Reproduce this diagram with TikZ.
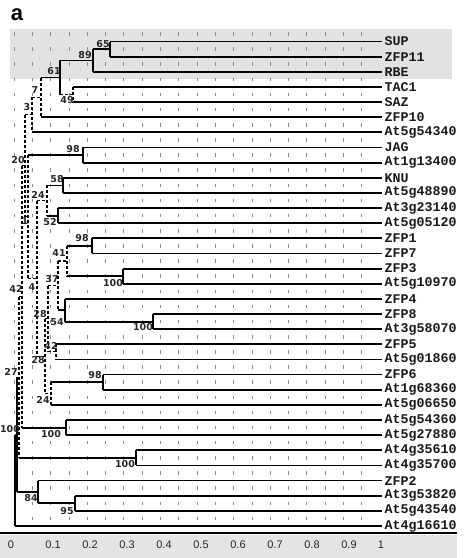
\documentclass[tikz,border=0pt]{standalone}
\usepackage{fontspec}
\setmainfont{Liberation Sans}
\newfontfamily\leaffont{Liberation Mono}
\newfontfamily\suppfont{DejaVu Sans}
\definecolor{box-gray}{HTML}{E2E2E2}
\definecolor{band-gray}{HTML}{E4E4E4}
\definecolor{tick-gray}{HTML}{8C8C8C}

\begin{document}
\begin{tikzpicture}[x=1pt, y=-1pt,
    leaf/.style={anchor=west, inner sep=2.5pt, text=black!90,
                 font=\leaffont\bfseries\fontsize{13.3}{13.3}\selectfont},
    supp/.style={inner sep=0pt, text=black!85,
                 font=\suppfont\bfseries\fontsize{9.5}{9.5}\selectfont},
    branch/.style={line width=1.8pt},
    weakbranch/.style={line width=1.1pt, dash pattern=on 3pt off 2pt},
    gridtick/.style={tick-gray, line width=0.7pt}]
  % frame: 474 x 558, one unit = one pixel, y runs downwards
  \useasboundingbox (0,0) rectangle (474,558);
  \fill[box-gray] (10,29) rectangle (452,79);
  \foreach \k in {0,...,19}
    \foreach \r in {0,...,32}
      \draw[gridtick] (14+18.3*\k, 32.2+15.14*\r) -- ++(0,3.5);

  \node[font=\bfseries\fontsize{22}{22}\selectfont, inner sep=0pt] (panel) at (17,15) {a};

  % leaves, top to bottom
  \foreach \name [count=\i from 0] in {SUP,ZFP11,RBE,TAC1,SAZ,ZFP10,At5g54340,
      JAG,At1g13400,KNU,At5g48890,At3g23140,At5g05120,ZFP1,ZFP7,ZFP3,At5g10970,
      ZFP4,ZFP8,At3g58070,ZFP5,At5g01860,ZFP6,At1g68360,At5g06650,At5g54360,
      At5g27880,At4g35610,At4g35700,ZFP2,At3g53820,At5g43540,At4g16610}
    \node[leaf] (\name) at (382, 41.5+15.14*\i) {\name};

  % internal nodes (x of the bracket, y of its middle)
  \coordinate (n65) at (110,49.1);
  \coordinate (n89) at (93,60.4);
  \coordinate (n49) at (73,94.5);
  \coordinate (n61) at (60,77.5);
  \coordinate (n7) at (41,97.4);
  \coordinate (n3) at (32,114.9);
  \coordinate (n98a) at (83,155);
  \coordinate (n58) at (63,185.4);
  \coordinate (n52) at (58,215.6);
  \coordinate (n24a) at (47,200.5);
  \coordinate (n98b) at (92,245.8);
  \coordinate (n100a) at (123,276.2);
  \coordinate (n41) at (67,261);
  \coordinate (n100b) at (153,321.6);
  \coordinate (n54) at (65,310.2);
  \coordinate (n37) at (58,285.6);
  \coordinate (n42a) at (56,351.9);
  \coordinate (n28a) at (48,318.7);
  \coordinate (n98c) at (103,382.1);
  \coordinate (n24b) at (51,393.5);
  \coordinate (n28b) at (45,356.1);
  \coordinate (n4) at (37,278.3);
  \coordinate (n1) at (28,216.6);
  \coordinate (n20) at (25,165.8);
  \coordinate (n100c) at (66,427.6);
  \coordinate (n42b) at (22,296.7);
  \coordinate (n100d) at (136,457.8);
  \coordinate (n27) at (19,377.3);
  \coordinate (n95) at (75,503.3);
  \coordinate (n84) at (38,492);
  \coordinate (n100e) at (17,434.6);
  \coordinate (root) at (15,480.3);

  % brackets
  \foreach \p/\a/\b in {n65/SUP/ZFP11, n89/n65/RBE, n61/n89/n49, n98a/JAG/At1g13400,
      n58/KNU/At5g48890, n52/At3g23140/At5g05120, n98b/ZFP1/ZFP7,
      n100a/ZFP3/At5g10970, n100b/ZFP8/At3g58070, n54/ZFP4/n100b,
      n98c/ZFP6/At1g68360, n100c/At5g54360/At5g27880, n100d/At4g35610/At4g35700,
      n95/At3g53820/At5g43540, n84/ZFP2/n95, n100e/n27/n84, root/n100e/At4g16610}
    \draw[branch] (\p |- \a) -- (\p |- \b);
  \foreach \p/\a/\b in {n49/TAC1/SAZ, n7/n61/ZFP10, n3/n7/At5g54340, n24a/n58/n52,
      n41/n98b/n100a, n37/n41/n54, n42a/ZFP5/At5g01860, n28a/n37/n42a,
      n24b/n98c/At5g06650, n28b/n28a/n24b, n4/n24a/n28b, n1/n98a/n4,
      n20/n3/n1, n42b/n20/n100c, n27/n42b/n100d}
    \draw[weakbranch] (\p |- \a) -- (\p |- \b);

  % branches into each child
  \foreach \p/\c in {n65/SUP, n65/ZFP11, n89/n65, n89/RBE, n49/TAC1, n49/SAZ,
      n61/n89, n7/n61, n7/ZFP10, n3/At5g54340, n98a/JAG, n98a/At1g13400,
      n58/KNU, n58/At5g48890, n52/At3g23140, n52/At5g05120, n24a/n58, n24a/n52,
      n98b/ZFP1, n98b/ZFP7, n100a/ZFP3, n100a/At5g10970, n41/n98b, n41/n100a,
      n100b/ZFP8, n100b/At3g58070, n54/ZFP4, n54/n100b, n37/n54,
      n42a/ZFP5, n42a/At5g01860, n98c/ZFP6, n98c/At1g68360, n24b/n98c,
      n24b/At5g06650, n1/n98a, n100c/At5g54360, n100c/At5g27880, n42b/n100c,
      n100d/At4g35610, n100d/At4g35700, n27/n100d, n95/At3g53820,
      n95/At5g43540, n84/ZFP2, n84/n95, n100e/n84, root/n100e, root/At4g16610}
    \draw[branch] (\p |- \c) -- (\c);
  \foreach \p/\c in {n61/n49, n3/n7, n20/n3, n4/n24a, n37/n41, n28a/n37,
      n28a/n42a, n28b/n28a, n28b/n24b, n4/n28b, n1/n4, n20/n1, n42b/n20,
      n27/n42b, n100e/n27}
    \draw[weakbranch] (\p |- \c) -- (\c);

  % bootstrap values
  \foreach \p/\t/\x/\y in {n65/65/103/44, n89/89/85/55, n61/61/54/71, n49/49/67/100,
      n7/7/35/90, n3/3/27/107, n98a/98/73/149, n20/20/18/160, n58/58/57/179,
      n24a/24/38/195, n1/1/25/221, n52/52/50/222, n98b/98/82/238, n41/41/59/253,
      n37/37/52/279, n4/4/32/287, n42b/42/16/289, n100a/100/113/283,
      n28a/28/40/314, n54/54/57/322, n100b/100/143/327, n42a/42/51/346,
      n28b/28/38/360, n27/27/11/372, n98c/98/95/375, n24b/24/43/400,
      n100e/100/10/429, n100c/100/51/434, n100d/100/125/464, n84/84/31/498,
      n95/95/67/511}
    \node[supp] (lab-\p) at (\x,\y) {\t};

  % distance axis
  \fill[band-gray] (0,535) rectangle (457,558);
  \draw[line width=1.4pt] (0,533) -- (457,533);
  \foreach \v/\x in {0/11, 0.1/53, 0.2/90, 0.3/127, 0.4/164, 0.5/201, 0.6/238,
      0.7/275, 0.8/312, 0.9/349, 1/381}
    \node[font=\fontsize{11}{11}\selectfont, text=black!85] (ax-\x) at (\x,545) {\v};
\end{tikzpicture}
\end{document}
